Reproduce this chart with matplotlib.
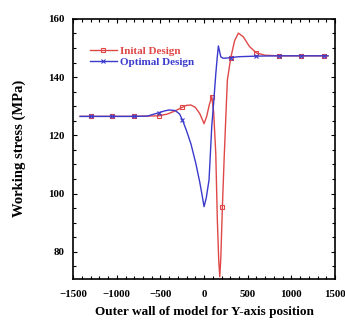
import matplotlib
matplotlib.use('Agg')
from matplotlib import pyplot as plt
from matplotlib.ticker import MultipleLocator

plt.rcParams['font.family'] = ['Liberation Serif', 'DejaVu Serif']
plt.rcParams['font.weight'] = 'bold'

# Initial design (red)
init_x = [-1420, -1300, -1050, -800, -515, -420, -330, -252, -200, -150, -100, -50, 0,
          30, 60, 88, 110, 134, 152, 168, 180, 192, 210, 230, 248, 267, 305, 350, 393,
          450, 520, 599, 700, 860, 1110, 1375, 1420]
init_y = [126.5, 126.5, 126.5, 126.5, 126.7, 127.3, 128.4, 129.6, 130.3, 130.4, 129.6, 127.5, 124.0,
          126.5, 130.5, 133.3, 128.0, 113.8, 91.0, 77.0, 71.4, 78.0, 95.5, 112.0, 125.3, 139.0, 146.5, 152.5, 155.1,
          153.8, 150.5, 148.3, 147.5, 147.3, 147.3, 147.3, 147.3]
init_marks = [1, 2, 3, 4, 7, 15, 22, 26, 31, 33, 34, 35]

# Optimal design (blue)
opt_x = [-1420, -1300, -1050, -800, -650, -515, -450, -400, -330, -280, -248, -200, -150, -95,
         -50, -20, 0, 25, 57, 88, 115, 134, 150, 164, 180, 191, 215, 250, 305, 400, 599,
         860, 1110, 1375, 1420]
opt_y = [126.5, 126.5, 126.5, 126.5, 126.6, 127.8, 128.4, 128.7, 128.5, 127.3, 125.3, 121.5, 117.0, 110.4,
         104.0, 99.0, 95.5, 98.5, 104.7, 123.0, 133.3, 141.0, 146.5, 150.7, 148.5, 147.0, 146.5, 146.5, 146.7, 147.0, 147.2,
         147.3, 147.3, 147.3, 147.3]
opt_marks = [1, 2, 3, 5, 10, 28, 30, 31, 32, 33]

red = '#e04848'
blue = '#3a3acc'

fig = plt.figure(figsize=(3.45, 3.25), dpi=100)
ax = fig.add_axes([0.212, 0.142, 0.759, 0.8])

ax.plot(init_x, init_y, color=red, lw=1.0, marker='s', ms=3.5, mfc='none', mew=0.8,
        markevery=init_marks, label='Inital Design')
ax.plot(opt_x, opt_y, color=blue, lw=1.0, marker='x', ms=3.5, mew=0.8,
        markevery=opt_marks, label='Optimal Design')

ax.set_xlim(-1500, 1500)
ax.set_ylim(70.7, 160)
ax.set_xticks([-1500, -1000, -500, 0, 500, 1000, 1500])
ax.set_yticks([80, 100, 120, 140, 160])
ax.xaxis.set_minor_locator(MultipleLocator(100))
ax.yaxis.set_minor_locator(MultipleLocator(5))
ax.tick_params(which='both', direction='in', top=True, right=True, labelsize=7.8, width=0.8)
ax.tick_params(which='major', length=3)
ax.tick_params(which='minor', length=2)
ax.tick_params(axis='x', which='major', pad=8)
ax.tick_params(axis='y', which='major', pad=6)
for s in ax.spines.values():
    s.set_linewidth(1.2)

ax.set_xlabel('Outer wall of model for Y-axis position', fontsize=9.5, fontweight='bold', labelpad=5)
ax.set_ylabel('Working stress (MPa)', fontsize=10.5, fontweight='bold', labelpad=16)

leg = ax.legend(loc='upper left', bbox_to_anchor=(0.03, 0.93), frameon=False, fontsize=8,
                handlelength=2.4, handletextpad=0.3, labelspacing=0.15, borderpad=0.3)
for txt, c in zip(leg.get_texts(), [red, blue]):
    txt.set_color(c)

fig.savefig('out.png', dpi=100)
